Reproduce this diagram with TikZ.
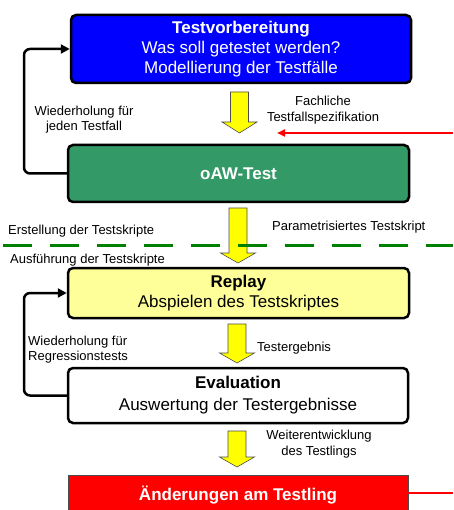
\documentclass[tikz,border=0pt]{standalone}
\usepackage{fontspec}
\setmainfont{Liberation Sans}
\usetikzlibrary{arrows.meta}
\definecolor{boxblue}{RGB}{0,0,255}
\definecolor{boxgreen}{RGB}{51,153,102}
\definecolor{boxyellow}{RGB}{255,255,153}
\definecolor{arrowyellow}{RGB}{255,255,0}
\definecolor{dashgreen}{RGB}{0,128,0}
\newcommand{\blockarrow}[4]{%
  \draw[yarrow] (#1-9,#2) -- (#1+9,#2) -- (#1+9,#3) -- (#1+17.5,#3) -- (#1,#4) -- (#1-17.5,#3) -- (#1-9,#3) -- cycle;}
\begin{document}
\begin{tikzpicture}[x=1pt,y=-1pt,
  stagebox/.style={draw=black, line width=2.5pt, rounded corners=5pt, align=center,
    font=\fontsize{17}{20}\selectfont, inner sep=0pt},
  lbl/.style={font=\fontsize{13}{15.5}\selectfont, inner sep=0pt, align=center},
  yarrow/.style={draw=black!70, line width=0.6pt, fill=arrowyellow},
  loopline/.style={draw=black, line width=2.5pt, rounded corners=6pt,
    -{Triangle[length=9pt,width=9pt]}},
  redline/.style={draw=red, line width=2.3pt}]
\useasboundingbox (0,0) rectangle (453,510);

% boxes
\node[stagebox, fill=boxblue, text=white, minimum width=340pt, minimum height=68pt]
  (prep) at (241,49) {\textbf{Testvorbereitung}\\Was soll getestet werden?\\Modellierung der Testfälle};
\node[stagebox, fill=boxgreen, text=white, minimum width=341pt, minimum height=57pt]
  (oaw) at (238.5,173.5) {\textbf{oAW-Test}};
\node[stagebox, fill=boxyellow, text=black, minimum width=341pt, minimum height=50pt]
  (replay) at (238.5,293) {\textbf{Replay}\\Abspielen des Testskriptes};
\node[stagebox, fill=white, text=black, minimum width=340pt, minimum height=55pt]
  (eval) at (238,395.5) {\textbf{Evaluation}\\[2pt]Auswertung der Testergebnisse};
\node[draw=black!70, line width=0.8pt, fill=red, text=white, minimum width=340pt, minimum height=40pt,
  font=\fontsize{17}{20}\selectfont\bfseries, inner sep=0pt, anchor=north]
  (change) at (238,475) {\raisebox{-0.5pt}{Änderungen am Testling}};

% yellow block arrows
\blockarrow{239.5}{92}{122}{133}
\blockarrow{238}{208}{253}{263}
\blockarrow{237}{324}{353}{363}
\blockarrow{237}{431}{457}{467}

% dashed separator
\coordinate (sepL) at (3,245);
\coordinate (sepR) at (453,245);
\draw[dashgreen, line width=3pt, dash pattern=on 29pt off 18pt] (sepL) -- (sepR);

% loops
\coordinate (lp1) at (24,110);
\draw[loopline] (oaw.west) -| (lp1) |- (prep.west);
\coordinate (lp2) at (24,340);
\draw[loopline] (eval.west) -| (lp2) |- (replay.west);

% red input/output lines
\coordinate (redin) at (453,133);
\coordinate (redtip) at (277,133);
\draw[redline, -{Triangle[length=8pt,width=7pt]}] (redin) -- (redtip);
\coordinate (redout) at (453,493);
\draw[redline] (change.east |- redout) -- (redout);

% labels
\node[lbl] (l1) at (84,119.5) {Wiederholung für\\jeden Testfall};
\node[lbl] (l2) at (323,110) {Fachliche\\Testfallspezifikation};
\node[lbl, anchor=west] (l3) at (8,231) {Erstellung der Testskripte};
\node[lbl, anchor=west] (l4) at (272,227) {Parametrisiertes Testskript};
\node[lbl, anchor=west] (l5) at (10,260) {Ausführung der Testskripte};
\node[lbl, anchor=west] (l6) at (257,348) {Testergebnis};
\node[lbl, align=left, anchor=west] (l7) at (28,349.5) {Wiederholung für\\Regressionstests};
\node[lbl] (l8) at (319,444) {Weiterentwicklung\\des Testlings};
\end{tikzpicture}
\end{document}
